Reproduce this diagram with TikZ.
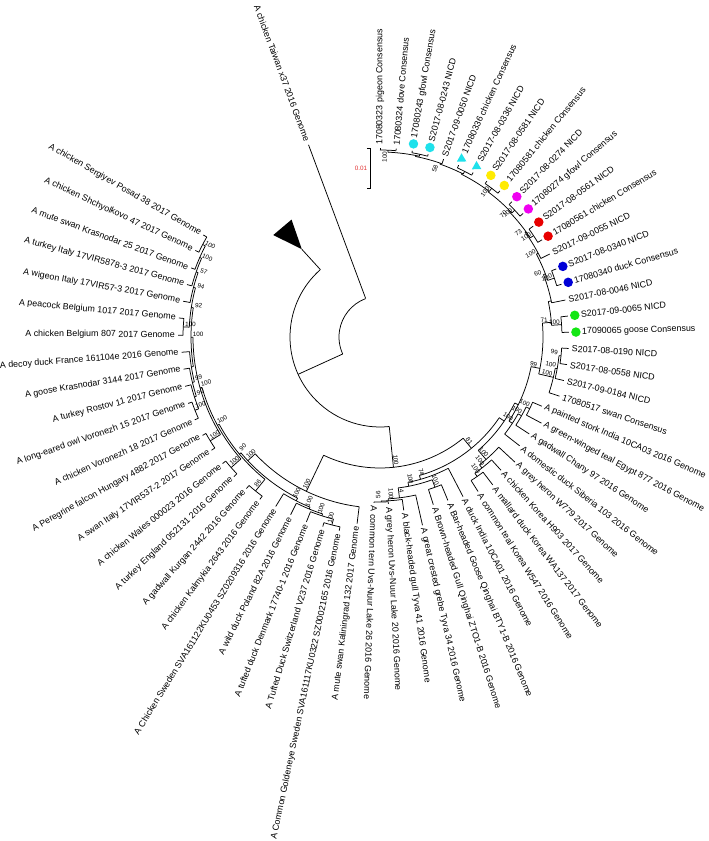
\documentclass[tikz,border=0pt]{standalone}
\usepackage{fontspec}
\setmainfont{Liberation Sans}
\usetikzlibrary{shapes.geometric, positioning}

\definecolor{mkcyan}{RGB}{30,225,235}
\definecolor{mkyellow}{RGB}{255,235,0}
\definecolor{mkmagenta}{RGB}{240,0,240}
\definecolor{mkred}{RGB}{232,0,0}
\definecolor{mkblue}{RGB}{0,0,215}
\definecolor{mkgreen}{RGB}{20,230,20}
\definecolor{barred}{RGB}{225,50,50}

% 内部节点: 名称, 角度, 父半径, 节点半径, 弧起, 弧止, 支持率
\newcommand{\clade}[7]{%
  \coordinate (#1-b) at ({#2}:{#3});
  \coordinate (#1) at ({#2}:{#4});
  \draw[branch] (#1-b) -- (#1);
  \draw[branch] ({#5}:{#4}) arc[start angle=#5, end angle=#6, radius=#4];
  \node[boot, anchor=south, rotate={#2+180*(cos(#2)<0)}] (#1-s) at ({#2}:{#4-7}) {#7};
}
% 叶子: 名称, 角度, 父半径, 末端半径, 文字半径, 文字
\newcommand{\leafR}[6]{%
  \coordinate (#1-b) at ({#2}:{#3});
  \coordinate (#1-t) at ({#2}:{#4});
  \draw[branch] (#1-b) -- (#1-t);
  \node[tip, anchor=west, rotate=#2] (#1) at ({#2}:{#5}) {#6};
}
\newcommand{\leafL}[6]{%
  \coordinate (#1-b) at ({#2}:{#3});
  \coordinate (#1-t) at ({#2}:{#4});
  \draw[branch] (#1-b) -- (#1-t);
  \node[tip, anchor=east, rotate=#2+180] (#1) at ({#2}:{#5}) {#6};
}

\begin{document}
\begin{tikzpicture}[
    x=1pt, y=1pt,
    branch/.style={line width=0.75pt, black},
    tip/.style={font=\fontsize{8.9}{10}\selectfont, inner sep=0pt},
    boot/.style={font=\fontsize{6.3}{7}\selectfont, inner sep=0.6pt},
    mk/.style={circle, minimum size=9.5pt, inner sep=0pt},
    mktri/.style={regular polygon, regular polygon sides=3, minimum size=11pt, inner sep=0pt}
]
\useasboundingbox (-380,-504) rectangle (329,337);

\begin{scope}[rotate=0.9, every node/.append style={rotate=0.9}]
% 根
\coordinate (R0) at (110:41);
\draw[branch] (R0) arc[start angle=110, end angle=203.6, radius=41];
\leafL{taiwan}{109.5}{41}{205}{209}{A chicken Taiwan x37 2016 Genome}
\clade{R1}{203.6}{41}{90}{130.6}{275}{}

% 折叠分支
\coordinate (cl-b) at (130.6:90);
\coordinate (cl) at (130.8:117.5);
\draw[branch] (cl-b) -- (cl);
\fill (cl) -- (126.1:147) -- (135.4:147.6) -- cycle;

\clade{X}{275}{90}{131}{-116.4}{-51.5}{100}

% 左侧分支
\clade{L0}{243.6}{131}{171}{222.2}{262.1}{100}
\leafL{l39}{262.1}{171}{188}{191}{A mute swan Kaliningrad 132 2017 Genome}
\clade{L1}{222.2}{171}{181}{218.9}{242}{100}
\clade{A4}{242}{181}{184}{237.5}{246.75}{100}
\leafL{l44}{237.5}{184}{199}{202}{A Chicken Sweden SVA161122KU0453 SZ0209316 2016 Genome}
\clade{A3}{246.75}{184}{186}{242.4}{251.1}{100}
\leafL{l43}{242.4}{186}{199}{202}{A wild duck Poland 82A 2016 Genome}
\clade{A2}{251.1}{186}{188}{247.4}{254.75}{100}
\leafL{l42}{247.4}{188}{199}{202}{A tufted duck Denmark 17740-1 2016 Genome}
\clade{A1}{254.75}{188}{194}{252.3}{257.2}{100}
\leafL{l41}{252.3}{194}{198}{201}{A Tufted Duck Switzerland V237 2016 Genome}
\leafL{l40}{257.2}{194}{198}{201}{A Common Goldeneye Sweden SVA161117KU0322 SZ0002165 2016 Genome}

\clade{B}{218.9}{181}{183}{207.6}{230.15}{90}
\clade{c4546}{230.15}{183}{198}{227.7}{232.6}{86}
\leafL{l45}{232.6}{198}{202}{205}{A chicken Kalmykia 2643 2016 Genome}
\leafL{l46}{227.7}{198}{202}{205}{A gadwall Kurgan 2442 2016 Genome}
\clade{m6}{207.6}{183}{185}{194.9}{220.35}{100}
\clade{c4748}{220.35}{185}{198}{217.9}{222.8}{100}
\leafL{l47}{222.8}{198}{202}{205}{A turkey England 052131 2016 Genome}
\leafL{l48}{217.9}{198}{202}{205}{A chicken Wales 000023 2016 Genome}
\clade{m5}{194.9}{185}{187}{179.2}{210.55}{100}
\clade{c4950}{210.55}{187}{199}{208.1}{213.0}{100}
\leafL{l49}{213.0}{199}{203}{206}{A swan Italy 17VIR537-2 2017 Genome}
\leafL{l50}{208.1}{199}{203}{206}{A Peregrine falcon Hungary 4882 2017 Genome}
\clade{m4}{179.2}{187}{189}{170.2}{188.1}{100}
\clade{m3}{188.1}{189}{191}{183.5}{192.7}{}
\leafL{l55}{183.5}{191}{199}{202}{A decoy duck France 161104e 2016 Genome}
\clade{m2}{192.7}{191}{193}{188.4}{197}{99}
\leafL{l54}{188.4}{193}{199}{202}{A goose Krasnodar 3144 2017 Genome}
\clade{m1}{197}{193}{195}{193.3}{200.7}{90}
\leafL{l53}{193.3}{195}{201}{204}{A turkey Rostov 11 2017 Genome}
\clade{c5152}{200.7}{195}{199}{198.2}{203.2}{100}
\leafL{l51}{203.2}{199}{203}{206}{A chicken Voronezh 18 2017 Genome}
\leafL{l52}{198.2}{199}{203}{206}{A long-eared owl Voronezh 15 2017 Genome}
\clade{T}{170.2}{189}{191}{164.2}{176.15}{92}
\clade{c5657}{176.15}{191}{197}{173.7}{178.6}{100}
\leafL{l56}{178.6}{197}{202}{205}{A chicken Belgium 807 2017 Genome}
\leafL{l57}{173.7}{197}{202}{205}{A peacock Belgium 1017 2017 Genome}
\clade{c58}{164.2}{191}{193}{159.6}{168.8}{94}
\leafL{l58}{168.8}{193}{200}{203}{A wigeon Italy 17VIR57-3 2017 Genome}
\clade{c59}{159.6}{193}{195}{155.3}{163.9}{57}
\leafL{l59}{163.9}{195}{200}{203}{A turkey Italy 17VIR5878-3 2017 Genome}
\clade{c60}{155.3}{195}{197}{151.55}{159}{100}
\leafL{l60}{159}{197}{201}{204}{A mute swan Krasnodar 25 2017 Genome}
\clade{c6162}{151.55}{197}{200}{149.1}{154}{100}
\leafL{l61}{154}{200}{204}{207}{A chicken Shchyolkovo 47 2017 Genome}
\leafL{l62}{149.1}{200}{204}{207}{A chicken Sergiyev Posad 38 2017 Genome}

% 右侧分支
\clade{R81}{-51.5}{131}{144}{-75}{-35}{81}
\clade{Q}{-75}{144}{148}{-80}{-63.42}{74}
\leafR{r32}{-63.42}{148}{180}{183}{A duck India 10CA01 2016 Genome}
\clade{Q2}{-80}{148}{152}{-84}{-70.8}{100}
\clade{c3334}{-70.8}{152}{160}{-73.26}{-68.34}{100}
\leafR{r33}{-68.34}{160}{177}{180}{A Bar-headed Goose Qinghai BTY1-B 2016 Genome}
\leafR{r34}{-73.26}{160}{176}{179}{A Brown-headed Gull Qinghai ZTO1-B 2016 Genome}
\clade{Q3}{-84}{152}{162}{-88}{-78.18}{4}
\leafR{r35}{-78.18}{162}{193}{196}{A great crested grebe Tyva 34 2016 Genome}
\clade{Q4}{-88}{162}{164}{-90.48}{-83.1}{100}
\leafR{r36}{-83.1}{164}{175}{178}{A black-headed gull Tyva 41 2016 Genome}
\clade{c3738}{-90.48}{164}{165}{-92.94}{-88.02}{56}
\leafR{r37}{-88.02}{165}{167}{170}{A grey heron Uvs-Nuur Lake 20 2016 Genome}
\leafR{r38}{-92.94}{165}{166}{169}{A common tern Uvs-Nuur Lake 26 2016 Genome}

\clade{U1}{-35}{144}{150}{-50}{-27}{}
\clade{K}{-50}{150}{162}{-53}{-43.74}{100}
\leafR{r28}{-43.74}{162}{184}{187}{A grey heron W779 2017 Genome}
\clade{K2}{-53}{162}{166}{-56.04}{-48.66}{100}
\leafR{r29}{-48.66}{166}{180}{183}{A chicken Korea H903 2017 Genome}
\clade{K3}{-56.04}{166}{170}{-58.5}{-53.58}{100}
\leafR{r30}{-53.58}{170}{186}{189}{A mallard duck Korea WA137 2017 Genome}
\leafR{r31}{-58.5}{170}{183}{186}{A common teal Korea W547 2016 Genome}

\clade{V}{-27}{150}{154}{-34}{-12}{}
\clade{D}{-34}{154}{158}{-38.82}{-30}{100}
\leafR{r27}{-38.82}{158}{177}{180}{A domestic duck Siberia 103 2016 Genome}
\clade{D2}{-30}{158}{162}{-33.9}{-26.5}{100}
\leafR{r26}{-33.9}{162}{178}{181}{A gadwall Chany 97 2016 Genome}
\clade{D3}{-26.5}{162}{166}{-28.98}{-24.06}{100}
\leafR{r25}{-28.98}{166}{183}{186}{A green-winged teal Egypt 877 2016 Genome}
\leafR{r24}{-24.06}{166}{176}{179}{A painted stork India 10CA03 2016 Genome}

\clade{W}{-12}{154}{163}{-14}{4}{99}
\clade{G}{-14}{163}{178}{-19.14}{-11}{100}
\leafR{r23}{-19.14}{178}{189}{192}{17080517 swan Consensus}
\clade{G2}{-11}{178}{180}{-14.22}{-6.84}{100}
\leafR{r22}{-14.22}{180}{189}{192}{S2017-09-0184 NICD}
\clade{G3}{-6.84}{180}{182}{-9.3}{-4.38}{99}
\leafR{r21}{-9.3}{182}{189}{192}{S2017-08-0558 NICD}
\leafR{r20}{-4.38}{182}{189}{192}{S2017-08-0190 NICD}

\clade{H}{4}{163}{172}{3.0}{11}{71}
\clade{c1819}{3.0}{172}{182}{0.54}{5.46}{100}
\leafR{r19}{0.54}{182}{189}{202}{17090065 goose Consensus}
\leafR{r18}{5.46}{182}{189}{202}{S2017-09-0065 NICD}
\clade{H1}{11}{172}{175}{10.38}{20}{}
\leafR{r17}{10.38}{175}{189}{192}{S2017-08-0046 NICD}
\clade{H2}{20}{175}{177}{17.76}{27}{60}
\clade{c1516}{17.76}{177}{184}{15.3}{20.22}{100}
\leafR{r16}{15.3}{184}{189}{202}{17080340 duck Consensus}
\leafR{r15}{20.22}{184}{189}{202}{S2017-08-0340 NICD}
\clade{H3}{27}{177}{179}{25.14}{35}{100}
\leafR{r14}{25.14}{179}{189}{192}{S2017-09-0055 NICD}
\clade{H4}{35}{179}{180}{32.52}{43}{73}
\clade{c1213}{32.52}{180}{184}{30.06}{34.98}{100}
\leafR{r13}{30.06}{184}{189}{202}{17080561 chicken Consensus}
\leafR{r12}{34.98}{184}{189}{202}{S2017-08-0561 NICD}
\clade{H5}{43}{180}{181}{42.36}{52.5}{70}
\clade{c1011}{42.36}{181}{185}{39.9}{44.82}{100}
\leafR{r11}{39.9}{185}{189}{202}{17080274 gfowl Consensus}
\leafR{r10}{44.82}{185}{189}{202}{S2017-08-0274 NICD}
\clade{H6}{52.5}{181}{182}{52.2}{62.5}{}
\clade{c89}{52.2}{182}{186}{49.74}{54.66}{100}
\leafR{r9}{49.74}{186}{189}{202}{17080581 chicken Consensus}
\leafR{r8}{54.66}{186}{189}{202}{S2017-08-0581 NICD}
\clade{H7}{62.5}{182}{183}{62.04}{70}{}
\clade{c67}{62.04}{183}{186}{59.58}{64.5}{}
\leafR{r7}{59.58}{186}{189}{202}{S2017-08-0336 NICD}
\leafR{r6}{64.5}{186}{189}{202}{17080336 chicken Consensus}
\clade{H8}{70}{183}{184}{69.42}{78}{58}
\leafR{r5}{69.42}{184}{189}{192}{S2017-09-0050 NICD}
\clade{H9}{78}{184}{185}{76.8}{86.64}{}
\clade{c34}{76.8}{185}{187}{74.34}{79.26}{}
\leafR{r4}{74.34}{187}{189}{202}{S2017-08-0243 NICD}
\leafR{r3}{79.26}{187}{189}{202}{17080243 gfowl Consensus}
\clade{c12}{86.64}{185}{187}{84.18}{89.1}{100}
\leafR{r2}{84.18}{187}{189}{192}{17080324 dove Consensus}
\leafR{r1}{89.1}{187}{189}{192}{17080323 pigeon Consensus}

% 标记
\node[mk, fill=mkcyan] (k3) at (79.26:196) {};
\node[mk, fill=mkcyan] (k4) at (74.34:196) {};
\node[mktri, fill=mkcyan] (k6) at (64.5:196) {};
\node[mktri, fill=mkcyan] (k7) at (59.58:196) {};
\node[mk, fill=mkyellow] (k8) at (54.66:196) {};
\node[mk, fill=mkyellow] (k9) at (49.74:196) {};
\node[mk, fill=mkmagenta] (k10) at (44.82:196) {};
\node[mk, fill=mkmagenta] (k11) at (39.9:196) {};
\node[mk, fill=mkred] (k12) at (34.98:196) {};
\node[mk, fill=mkred] (k13) at (30.06:196) {};
\node[mk, fill=mkblue] (k15) at (20.22:196) {};
\node[mk, fill=mkblue] (k16) at (15.3:196) {};
\node[mk, fill=mkgreen] (k18) at (5.46:196) {};
\node[mk, fill=mkgreen] (k19) at (0.54:196) {};
\end{scope}

% 标尺
\coordinate (sb1) at (-10,188.7);
\coordinate (sb2) at (-10,148.7);
\draw[branch] ([xshift=-3pt]sb1) -- (sb1) -- (sb2) -- ([xshift=-3pt]sb2);
\node[boot, text=barred] (sbl) at (-19,168.7) {0.01};
\end{tikzpicture}
\end{document}
